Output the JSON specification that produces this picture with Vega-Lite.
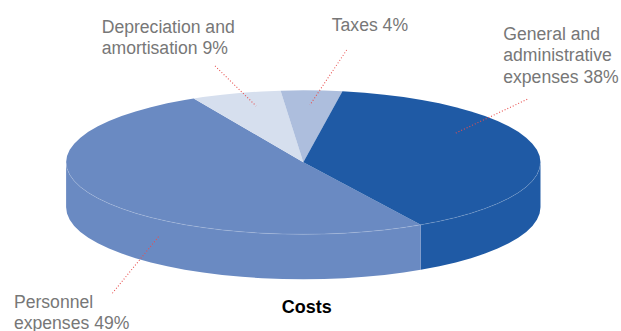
{
  "$schema": "https://vega.github.io/schema/vega-lite/v6.json",
  "width": 621,
  "height": 331,
  "padding": 0,
  "autosize": "none",
  "background": "white",
  "config": {"view": {"stroke": null}},
  "datasets": {
    "wall": [
      {"slice":"General","x":100,"y":0,"y2":-62.5},
      {"slice":"General","x":99.62,"y":-8.72,"y2":-71.22},
      {"slice":"General","x":98.48,"y":-17.36,"y2":-79.86},
      {"slice":"General","x":96.59,"y":-25.88,"y2":-88.38},
      {"slice":"General","x":93.97,"y":-34.2,"y2":-96.7},
      {"slice":"General","x":90.63,"y":-42.26,"y2":-104.76},
      {"slice":"General","x":86.6,"y":-50,"y2":-112.5},
      {"slice":"General","x":81.92,"y":-57.36,"y2":-119.86},
      {"slice":"General","x":76.6,"y":-64.28,"y2":-126.78},
      {"slice":"General","x":70.71,"y":-70.71,"y2":-133.21},
      {"slice":"General","x":64.28,"y":-76.6,"y2":-139.1},
      {"slice":"General","x":57.36,"y":-81.92,"y2":-144.42},
      {"slice":"General","x":49.5,"y":-86.9,"y2":-149.4},
      {"slice":"Personnel","x":49.5,"y":-86.9,"y2":-149.4},
      {"slice":"Personnel","x":42.26,"y":-90.63,"y2":-153.13},
      {"slice":"Personnel","x":34.2,"y":-93.97,"y2":-156.47},
      {"slice":"Personnel","x":25.88,"y":-96.59,"y2":-159.09},
      {"slice":"Personnel","x":17.36,"y":-98.48,"y2":-160.98},
      {"slice":"Personnel","x":8.72,"y":-99.62,"y2":-162.12},
      {"slice":"Personnel","x":0,"y":-100,"y2":-162.5},
      {"slice":"Personnel","x":-8.72,"y":-99.62,"y2":-162.12},
      {"slice":"Personnel","x":-17.36,"y":-98.48,"y2":-160.98},
      {"slice":"Personnel","x":-25.88,"y":-96.59,"y2":-159.09},
      {"slice":"Personnel","x":-34.2,"y":-93.97,"y2":-156.47},
      {"slice":"Personnel","x":-42.26,"y":-90.63,"y2":-153.13},
      {"slice":"Personnel","x":-50,"y":-86.6,"y2":-149.1},
      {"slice":"Personnel","x":-57.36,"y":-81.92,"y2":-144.42},
      {"slice":"Personnel","x":-64.28,"y":-76.6,"y2":-139.1},
      {"slice":"Personnel","x":-70.71,"y":-70.71,"y2":-133.21},
      {"slice":"Personnel","x":-76.6,"y":-64.28,"y2":-126.78},
      {"slice":"Personnel","x":-81.92,"y":-57.36,"y2":-119.86},
      {"slice":"Personnel","x":-86.6,"y":-50,"y2":-112.5},
      {"slice":"Personnel","x":-90.63,"y":-42.26,"y2":-104.76},
      {"slice":"Personnel","x":-93.97,"y":-34.2,"y2":-96.7},
      {"slice":"Personnel","x":-96.59,"y":-25.88,"y2":-88.38},
      {"slice":"Personnel","x":-98.48,"y":-17.36,"y2":-79.86},
      {"slice":"Personnel","x":-99.62,"y":-8.72,"y2":-71.22},
      {"slice":"Personnel","x":-100,"y":0,"y2":-62.5}
    ],
    "faces": [
      {"slice":"Personnel","i":0,"x":0,"y":0},
      {"slice":"Personnel","i":1,"x":49.5,"y":-86.9},
      {"slice":"Personnel","i":2,"x":42.26,"y":-90.63},
      {"slice":"Personnel","i":3,"x":34.2,"y":-93.97},
      {"slice":"Personnel","i":4,"x":25.88,"y":-96.59},
      {"slice":"Personnel","i":5,"x":17.36,"y":-98.48},
      {"slice":"Personnel","i":6,"x":8.72,"y":-99.62},
      {"slice":"Personnel","i":7,"x":0,"y":-100},
      {"slice":"Personnel","i":8,"x":-8.72,"y":-99.62},
      {"slice":"Personnel","i":9,"x":-17.36,"y":-98.48},
      {"slice":"Personnel","i":10,"x":-25.88,"y":-96.59},
      {"slice":"Personnel","i":11,"x":-34.2,"y":-93.97},
      {"slice":"Personnel","i":12,"x":-42.26,"y":-90.63},
      {"slice":"Personnel","i":13,"x":-50,"y":-86.6},
      {"slice":"Personnel","i":14,"x":-57.36,"y":-81.92},
      {"slice":"Personnel","i":15,"x":-64.28,"y":-76.6},
      {"slice":"Personnel","i":16,"x":-70.71,"y":-70.71},
      {"slice":"Personnel","i":17,"x":-76.6,"y":-64.28},
      {"slice":"Personnel","i":18,"x":-81.92,"y":-57.36},
      {"slice":"Personnel","i":19,"x":-86.6,"y":-50},
      {"slice":"Personnel","i":20,"x":-90.63,"y":-42.26},
      {"slice":"Personnel","i":21,"x":-93.97,"y":-34.2},
      {"slice":"Personnel","i":22,"x":-96.59,"y":-25.88},
      {"slice":"Personnel","i":23,"x":-98.48,"y":-17.36},
      {"slice":"Personnel","i":24,"x":-99.62,"y":-8.72},
      {"slice":"Personnel","i":25,"x":-100,"y":0},
      {"slice":"Personnel","i":26,"x":-99.62,"y":8.72},
      {"slice":"Personnel","i":27,"x":-98.48,"y":17.36},
      {"slice":"Personnel","i":28,"x":-96.59,"y":25.88},
      {"slice":"Personnel","i":29,"x":-93.97,"y":34.2},
      {"slice":"Personnel","i":30,"x":-90.63,"y":42.26},
      {"slice":"Personnel","i":31,"x":-86.6,"y":50},
      {"slice":"Personnel","i":32,"x":-81.92,"y":57.36},
      {"slice":"Personnel","i":33,"x":-76.6,"y":64.28},
      {"slice":"Personnel","i":34,"x":-70.71,"y":70.71},
      {"slice":"Personnel","i":35,"x":-64.28,"y":76.6},
      {"slice":"Personnel","i":36,"x":-57.36,"y":81.92},
      {"slice":"Personnel","i":37,"x":-50,"y":86.6},
      {"slice":"Personnel","i":38,"x":-46.2,"y":88.7},
      {"slice":"Depreciation","i":0,"x":0,"y":0},
      {"slice":"Depreciation","i":1,"x":-46.2,"y":88.7},
      {"slice":"Depreciation","i":2,"x":-42.26,"y":90.63},
      {"slice":"Depreciation","i":3,"x":-34.2,"y":93.97},
      {"slice":"Depreciation","i":4,"x":-25.88,"y":96.59},
      {"slice":"Depreciation","i":5,"x":-17.36,"y":98.48},
      {"slice":"Depreciation","i":6,"x":-9.58,"y":99.54},
      {"slice":"Taxes","i":0,"x":0,"y":0},
      {"slice":"Taxes","i":1,"x":-9.58,"y":99.54},
      {"slice":"Taxes","i":2,"x":0,"y":100},
      {"slice":"Taxes","i":3,"x":8.72,"y":99.62},
      {"slice":"Taxes","i":4,"x":16.5,"y":98.6},
      {"slice":"General","i":0,"x":0,"y":0},
      {"slice":"General","i":1,"x":16.5,"y":98.6},
      {"slice":"General","i":2,"x":25.88,"y":96.59},
      {"slice":"General","i":3,"x":34.2,"y":93.97},
      {"slice":"General","i":4,"x":42.26,"y":90.63},
      {"slice":"General","i":5,"x":50,"y":86.6},
      {"slice":"General","i":6,"x":57.36,"y":81.92},
      {"slice":"General","i":7,"x":64.28,"y":76.6},
      {"slice":"General","i":8,"x":70.71,"y":70.71},
      {"slice":"General","i":9,"x":76.6,"y":64.28},
      {"slice":"General","i":10,"x":81.92,"y":57.36},
      {"slice":"General","i":11,"x":86.6,"y":50},
      {"slice":"General","i":12,"x":90.63,"y":42.26},
      {"slice":"General","i":13,"x":93.97,"y":34.2},
      {"slice":"General","i":14,"x":96.59,"y":25.88},
      {"slice":"General","i":15,"x":98.48,"y":17.36},
      {"slice":"General","i":16,"x":99.62,"y":8.72},
      {"slice":"General","i":17,"x":100,"y":0},
      {"slice":"General","i":18,"x":99.62,"y":-8.72},
      {"slice":"General","i":19,"x":98.48,"y":-17.36},
      {"slice":"General","i":20,"x":96.59,"y":-25.88},
      {"slice":"General","i":21,"x":93.97,"y":-34.2},
      {"slice":"General","i":22,"x":90.63,"y":-42.26},
      {"slice":"General","i":23,"x":86.6,"y":-50},
      {"slice":"General","i":24,"x":81.92,"y":-57.36},
      {"slice":"General","i":25,"x":76.6,"y":-64.28},
      {"slice":"General","i":26,"x":70.71,"y":-70.71},
      {"slice":"General","i":27,"x":64.28,"y":-76.6},
      {"slice":"General","i":28,"x":57.36,"y":-81.92},
      {"slice":"General","i":29,"x":49.5,"y":-86.9}
    ],
    "leaders": [
      {"slice":"Depreciation","x":-37.2,"y":133.75,"x2":-19.9,"y2":78.2},
      {"slice":"Taxes","x":18.3,"y":156,"x2":2.8,"y2":79.6},
      {"slice":"General","x":94.4,"y":87.5,"x2":63.7,"y2":39.7},
      {"slice":"Personnel","x":-80.5,"y":-181.9,"x2":-60.8,"y2":-102.4}
    ],
    "labels": [
      {"label":"Depreciation and\namortisation 9%","x":-85,"y":179.6},
      {"label":"Taxes 4%","x":12,"y":182.4},
      {"label":"General and\nadministrative\nexpenses 38%","x":84.3,"y":169.9},
      {"label":"Personnel\nexpenses 49%","x":-122,"y":-201.9}
    ],
    "heading": [
      {"label":"Costs","x":-9.1,"y":-208.9}
    ]
  },
  "encoding": {
    "x": {"field":"x","type":"quantitative","axis":null,"scale":{"domain":[-127.87,133.94],"nice":false,"zero":false}},
    "y": {"field":"y","type":"quantitative","axis":null,"scale":{"domain":[-234.31,225.42],"nice":false,"zero":false}}
  },
  "layer": [
    {
      "data": {"name":"wall"},
      "mark": {"type":"area","interpolate":"linear","stroke":null},
      "encoding": {
        "y2": {"field":"y2"},
        "color": {"field":"slice","type":"nominal","legend":null,
          "scale":{"domain":["General","Personnel","Depreciation","Taxes"],"range":["#1f5aa5","#6a8ac2","#d6dfee","#adbedd"]}}
      }
    },
    {
      "data": {"name":"faces"},
      "mark": {"type":"line","filled":true,"interpolate":"linear-closed","strokeWidth":0},
      "encoding": {
        "order": {"field":"i","type":"quantitative"},
        "color": {"field":"slice","type":"nominal","legend":null}
      }
    },
    {
      "data": {"name":"wall"},
      "mark": {"type":"line","color":"#ffffff","opacity":0.22,"strokeWidth":0.7},
      "encoding": {"detail":{"field":"slice"}}
    },
    {
      "data": {"name":"leaders"},
      "mark": {"type":"rule","color":"#e8504f","strokeWidth":1.1,"strokeDash":[1,2]},
      "encoding": {"x2":{"field":"x2"},"y2":{"field":"y2"}}
    },
    {
      "data": {"name":"labels"},
      "mark": {"type":"text","font":"Liberation Sans","fontSize":17.6,"color":"#777777","align":"left","baseline":"alphabetic","lineBreak":"\n","lineHeight":21.5},
      "encoding": {"text":{"field":"label"}}
    },
    {
      "data": {"name":"heading"},
      "mark": {"type":"text","font":"Liberation Sans","fontSize":18,"fontWeight":"bold","color":"#000000","align":"left","baseline":"alphabetic"},
      "encoding": {"text":{"field":"label"}}
    }
  ]
}
